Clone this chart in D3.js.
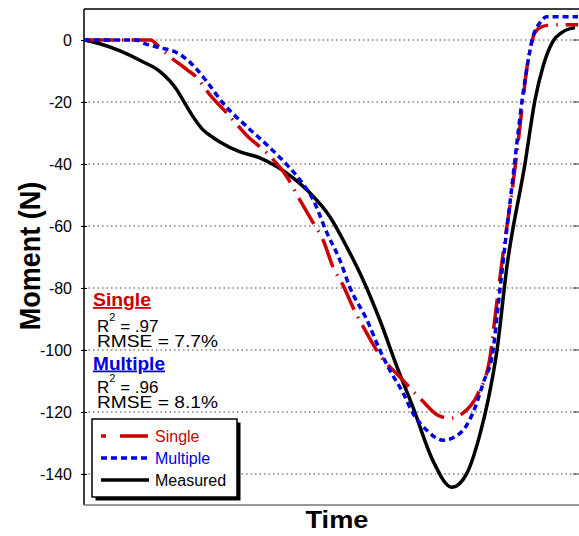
<!DOCTYPE html>
<html>
<head>
<meta charset="utf-8">
<script src="https://cdn.jsdelivr.net/npm/d3@7"></script>
<style>
body { margin: 0; background: #fff; }
text { font-family: "Liberation Sans", Arial, sans-serif; }
</style>
</head>
<body>
<div class="chart"></div>
<script>
var w = 579;
var h = 536;
var margin = {top: 9, right: 1, bottom: 31, left: 84};

var yTicks = [0, -20, -40, -60, -80, -100, -120, -140];

// time is in arbitrary units (0-100), values in N
var measuredT = [0, 3.2, 7.3, 11.9, 15.4, 18.8, 20.0, 22.1, 24.1, 25.9, 27.5, 31.6, 35.6, 39.1, 42.3, 45.7, 49.8, 53.2, 56.5, 59.9, 63.4, 66.6, 70.6, 74.5, 77.5, 80.2, 81.8, 83.6, 85.6, 89.3, 91.3, 92.9, 94.9, 97.0, 99.4];
var measuredV = [0, -1.2, -3.5, -7.0, -10.2, -16.1, -19.3, -24.8, -29.0, -31.2, -32.9, -36.1, -38.0, -40.9, -44.5, -49.3, -57.1, -66.8, -77.4, -90.4, -105.6, -118.5, -135.6, -144.3, -139.8, -126.9, -116.2, -100.1, -73.2, -39.6, -19.3, -8.6, -0.5, 2.7, 4.0];

var singleT = [0, 13.4, 15.4, 17.4, 20.9, 22.9, 25.5, 28.9, 33.2, 37.0, 41.1, 43.7, 46.4, 48.4, 50.4, 52.4, 54.9, 56.9, 59.9, 64.0, 68.4, 71.7, 74.1, 76.7, 79.6, 82.2, 82.8, 85.2, 86.6, 87.7, 88.7, 89.7, 91.3, 92.7, 94.9, 100];
var singleV = [0, 0, -2.5, -5.4, -9.6, -12.2, -17.7, -23.5, -31.2, -36.4, -44.2, -51.6, -59.0, -64.5, -73.2, -79.0, -87.8, -93.6, -101.7, -108.8, -116.2, -121.1, -122.0, -120.4, -114.6, -102.3, -94.6, -64.5, -49.3, -35.4, -21.6, -8.6, 2.4, 4.3, 4.9, 4.9];

var multipleT = [0, 10.7, 11.9, 15.4, 18.8, 20.9, 22.9, 24.9, 28.1, 33.0, 37.0, 41.1, 43.7, 46.4, 49.2, 51.8, 53.8, 57.3, 59.9, 61.9, 64.6, 66.6, 69.4, 72.7, 76.1, 78.7, 80.8, 82.8, 83.8, 85.5, 86.7, 87.7, 88.7, 89.7, 90.9, 92.3, 93.7, 100];
var multipleV = [0, 0, -0.9, -2.5, -4.1, -6.4, -9.6, -13.5, -20.3, -28.0, -33.8, -40.3, -45.1, -51.6, -62.3, -71.0, -79.7, -90.4, -100.1, -106.5, -113.9, -120.4, -125.9, -129.1, -126.9, -120.4, -110.7, -100.1, -86.2, -62.3, -46.1, -32.2, -19.3, -8.6, 1.1, 5.6, 7.5, 7.5];

var red = "#cc0000";
var blue = "#0000dd";

var svg = d3.select(".chart")
            .append("svg")
            .attr("width", w)
            .attr("height", h);

var xScale = d3.scaleLinear()
    .domain([0, 100])
    .range([margin.left, w - margin.right]);

var yScale = d3.scaleLinear()
    .domain([-150, 10])
    .range([h - margin.bottom, margin.top]);

// dotted gridlines
svg.selectAll(".grid")
   .data(yTicks)
   .enter()
   .append("line")
   .attr("x1", margin.left)
   .attr("x2", w - margin.right)
   .attr("y1", (d) => yScale(d))
   .attr("y2", (d) => yScale(d))
   .attr("stroke", "#444")
   .attr("stroke-width", 1.2)
   .attr("stroke-dasharray", "1.5,3");

// right-hand tick stubs
svg.selectAll(".rtick")
   .data(yTicks)
   .enter()
   .append("line")
   .attr("x1", w - 6)
   .attr("x2", w)
   .attr("y1", (d) => yScale(d))
   .attr("y2", (d) => yScale(d))
   .attr("stroke", "#333");

// left axis
var yAxis = d3.axisLeft(yScale)
    .tickValues(yTicks)
    .tickFormat((d) => String(d))
    .tickSizeInner(3)
    .tickSizeOuter(0)
    .tickPadding(9);

var gy = svg.append("g")
   .attr("transform", "translate(" + margin.left + ",0)")
   .call(yAxis);
gy.select(".domain").remove();
gy.selectAll(".tick line").attr("x2", 3).attr("x1", -3).attr("stroke", "#000");
gy.selectAll(".tick text")
  .attr("font-size", 16)
  .attr("fill", "#000")
  .style("font-family", "'Liberation Sans', Arial, sans-serif");

svg.append("line")
   .attr("x1", margin.left).attr("x2", margin.left)
   .attr("y1", margin.top).attr("y2", h - margin.bottom)
   .attr("stroke", "#000").attr("stroke-width", 1.5);
svg.append("line")
   .attr("x1", margin.left).attr("x2", w)
   .attr("y1", margin.top).attr("y2", margin.top)
   .attr("stroke", "#000").attr("stroke-width", 1.5);
svg.append("line")
   .attr("x1", margin.left).attr("x2", w)
   .attr("y1", h - margin.bottom).attr("y2", h - margin.bottom)
   .attr("stroke", "#777").attr("stroke-width", 1.5);

// curves
var line = d3.line()
    .x((d) => xScale(d[0]))
    .y((d) => yScale(d[1]))
    .curve(d3.curveMonotoneX);

var series = [
  {t: measuredT, v: measuredV, color: "#000", dash: null},
  {t: singleT, v: singleV, color: red, dash: "30,8,1.5,8"},
  {t: multipleT, v: multipleV, color: blue, dash: "6,4"}
];

svg.selectAll(".curve")
   .data(series)
   .enter()
   .append("path")
   .attr("d", (s) => line(s.t.map((t, i) => [t, s.v[i]])))
   .attr("fill", "none")
   .attr("stroke", (s) => s.color)
   .attr("stroke-width", 3.5)
   .attr("stroke-dasharray", (s) => s.dash);

// axis titles
svg.append("text")
   .attr("x", 337).attr("y", 528)
   .attr("text-anchor", "middle")
   .attr("font-size", 24)
   .attr("font-weight", "bold")
   .attr("textLength", 63)
   .attr("lengthAdjust", "spacingAndGlyphs")
   .text("Time");

svg.append("text")
   .attr("transform", "translate(40,256) scale(1.12,1) rotate(-90)")
   .attr("text-anchor", "middle")
   .attr("font-size", 27)
   .attr("font-weight", "bold")
   .text("Moment (N)");

// fit statistics
function header(txt, color, y, len) {
  svg.append("text")
     .attr("x", 93).attr("y", y)
     .attr("font-size", 18)
     .attr("font-weight", "bold")
     .attr("fill", color)
     .attr("text-decoration", "underline")
     .attr("textLength", len)
     .attr("lengthAdjust", "spacingAndGlyphs")
     .text(txt);
}
function stats(r2, rmse, y) {
  var t = svg.append("text")
     .attr("x", 97).attr("y", y)
     .attr("font-size", 17);
  t.append("tspan").text("R");
  t.append("tspan").attr("font-size", 11).attr("dy", -11).text("2");
  t.append("tspan").attr("dy", 11).text(" = " + r2);
  svg.append("text")
     .attr("x", 97).attr("y", y + 15)
     .attr("font-size", 17)
     .attr("textLength", 121)
     .attr("lengthAdjust", "spacingAndGlyphs")
     .text("RMSE = " + rmse);
}
header("Single", red, 306, 58);
stats(".97", "7.7%", 331.5);
header("Multiple", blue, 369.5, 72);
stats(".96", "8.1%", 393);

// legend
var lg = svg.append("g");
lg.append("rect")
  .attr("x", 95.5).attr("y", 422.5)
  .attr("width", 145).attr("height", 78)
  .attr("fill", "#000");
lg.append("rect")
  .attr("x", 92).attr("y", 419)
  .attr("width", 145).attr("height", 78)
  .attr("fill", "#fff")
  .attr("stroke", "#000")
  .attr("stroke-width", 1.5);

var legendItems = [
  {name: "Single", color: red, dash: "5,14,28", y: 436},
  {name: "Multiple", color: blue, dash: "6,4", y: 458},
  {name: "Measured", color: "#000", dash: null, y: 480}
];

lg.selectAll(".lline")
  .data(legendItems)
  .enter()
  .append("line")
  .attr("x1", 101).attr("x2", 149)
  .attr("y1", (d) => d.y).attr("y2", (d) => d.y)
  .attr("stroke", (d) => d.color)
  .attr("stroke-width", 3.5)
  .attr("stroke-dasharray", (d) => d.dash);

lg.selectAll(".ltext")
  .data(legendItems)
  .enter()
  .append("text")
  .attr("x", 155)
  .attr("y", (d) => d.y + 6)
  .attr("font-size", 16)
  .attr("fill", (d) => d.color)
  .text((d) => d.name);
</script>
</body>
</html>
